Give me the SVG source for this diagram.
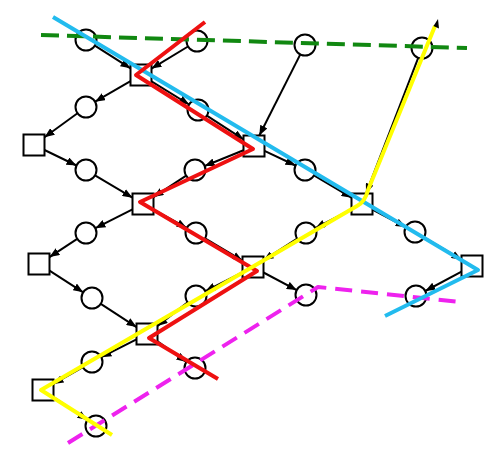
<svg xmlns="http://www.w3.org/2000/svg" width="490" height="462" viewBox="0 0 490 462">
<style>
.p{fill:#fff;stroke:#000;stroke-width:2}
.t{fill:#fff;stroke:#000;stroke-width:2}
.e line{stroke:#000;stroke-width:2;marker-end:url(#ah)}
.ov{fill:none;stroke-width:4;stroke-linejoin:round}
</style>
<defs>
<marker id="ah" markerUnits="userSpaceOnUse" markerWidth="11" markerHeight="8" refX="10" refY="4" orient="auto">
<path d="M0,0 L10,4 L0,8 z" fill="#000"/>
</marker>
</defs>
<rect width="490" height="462" fill="#fff"/>
<g id="edges" class="e">
<line x1="94.9" y1="45.6" x2="130.5" y2="68.3"/>
<line x1="188" y1="46.5" x2="151.5" y2="68.6"/>
<line x1="130.5" y1="81.1" x2="95.1" y2="101.7"/>
<line x1="77.5" y1="113.2" x2="44.5" y2="137.3"/>
<line x1="151.5" y1="81.4" x2="189.1" y2="104.5"/>
<line x1="206.8" y1="115.7" x2="243.5" y2="139.3"/>
<line x1="300.3" y1="54.4" x2="259.3" y2="135.5"/>
<line x1="44.5" y1="150" x2="76.5" y2="165.5"/>
<line x1="95" y1="175.4" x2="132.5" y2="197.7"/>
<line x1="243.5" y1="150.3" x2="204.7" y2="166"/>
<line x1="186.2" y1="175.7" x2="153.5" y2="197.1"/>
<line x1="264.5" y1="150.9" x2="295.5" y2="165.5"/>
<line x1="314" y1="175.4" x2="351.5" y2="197.7"/>
<line x1="418.2" y1="57.8" x2="366" y2="193.5"/>
<line x1="132.5" y1="209.3" x2="95.4" y2="228.2"/>
<line x1="77.2" y1="238.8" x2="49.5" y2="257.1"/>
<line x1="153.5" y1="209.7" x2="186.8" y2="228"/>
<line x1="205" y1="238.4" x2="242.5" y2="260.7"/>
<line x1="351.5" y1="209.4" x2="315.3" y2="228.2"/>
<line x1="297.2" y1="238.7" x2="263.5" y2="260.3"/>
<line x1="372.5" y1="209.5" x2="405.7" y2="227.1"/>
<line x1="424" y1="237.4" x2="461.5" y2="259.7"/>
<line x1="49.5" y1="270.7" x2="83.2" y2="292.3"/>
<line x1="100.8" y1="303.8" x2="136.5" y2="327.1"/>
<line x1="242.5" y1="272.3" x2="205.4" y2="291.2"/>
<line x1="263.5" y1="272.5" x2="296.7" y2="290.1"/>
<line x1="461.5" y1="271.6" x2="425.3" y2="291"/>
<line x1="187.7" y1="302.4" x2="157.5" y2="325.9"/>
<line x1="136.5" y1="339.3" x2="101.4" y2="357.2"/>
<line x1="157.5" y1="341.4" x2="186.4" y2="361.9"/>
<line x1="82.9" y1="367.2" x2="53.5" y2="384"/>
<line x1="53.5" y1="397.1" x2="87.3" y2="420.1"/>
</g>
<g id="C1"><circle class="p" cx="86" cy="40" r="10.5"/></g>
<g id="C2"><circle class="p" cx="197" cy="41" r="10.5"/></g>
<g id="C3"><circle class="p" cx="305" cy="45" r="10.5"/></g>
<g id="C4"><circle class="p" cx="422" cy="48" r="10.5"/></g>
<g id="C5"><circle class="p" cx="86" cy="107" r="10.5"/></g>
<g id="C6"><circle class="p" cx="198" cy="110" r="10.5"/></g>
<g id="C7"><circle class="p" cx="86" cy="170" r="10.5"/></g>
<g id="C8"><circle class="p" cx="195" cy="170" r="10.5"/></g>
<g id="C9"><circle class="p" cx="305" cy="170" r="10.5"/></g>
<g id="C10"><circle class="p" cx="86" cy="233" r="10.5"/></g>
<g id="C11"><circle class="p" cx="196" cy="233" r="10.5"/></g>
<g id="C12"><circle class="p" cx="306" cy="233" r="10.5"/></g>
<g id="C13"><circle class="p" cx="415" cy="232" r="10.5"/></g>
<g id="C14"><circle class="p" cx="92" cy="298" r="10.5"/></g>
<g id="C15"><circle class="p" cx="196" cy="296" r="10.5"/></g>
<g id="C16"><circle class="p" cx="306" cy="295" r="10.5"/></g>
<g id="C17"><circle class="p" cx="416" cy="296" r="10.5"/></g>
<g id="C18"><circle class="p" cx="92" cy="362" r="10.5"/></g>
<g id="C19"><circle class="p" cx="195" cy="368" r="10.5"/></g>
<g id="C20"><circle class="p" cx="96" cy="426" r="10.5"/></g>
<g id="S1"><rect class="t" x="130.5" y="64.5" width="21" height="21"/></g>
<g id="S2"><rect class="t" x="23.5" y="134.5" width="21" height="21"/></g>
<g id="S3"><rect class="t" x="243.5" y="135.5" width="21" height="21"/></g>
<g id="S4"><rect class="t" x="132.5" y="193.5" width="21" height="21"/></g>
<g id="S5"><rect class="t" x="351.5" y="193.5" width="21" height="21"/></g>
<g id="S6"><rect class="t" x="28.5" y="253.5" width="21" height="21"/></g>
<g id="S7"><rect class="t" x="242.5" y="256.5" width="21" height="21"/></g>
<g id="S8"><rect class="t" x="461.5" y="255.5" width="21" height="21"/></g>
<g id="S9"><rect class="t" x="136.5" y="323.5" width="21" height="21"/></g>
<g id="S10"><rect class="t" x="32.5" y="379.5" width="21" height="21"/></g>
<g id="paths">
<path class="ov" d="M41,35 L467,48" stroke="#118811" stroke-dasharray="18,8"/>
<path class="ov" d="M68,443 L318,287 L460,302" stroke="#ee22ee" stroke-dasharray="17,9"/>
<path class="ov" d="M53,17 L478,270 L385,316" stroke="#22bbee"/>
<path class="ov" d="M205,22 L136,75 L253,149 L140,202 L257,271 L149,338 L218,379" stroke="#ee1111"/>
<path class="ov" d="M112,435 L41,390 L357,206 Q365,202 368,190 L435,26" stroke="#ffff00"/>
<polygon points="438,19 439,28.5 433.5,26" fill="#000"/>
</g>
</svg>
